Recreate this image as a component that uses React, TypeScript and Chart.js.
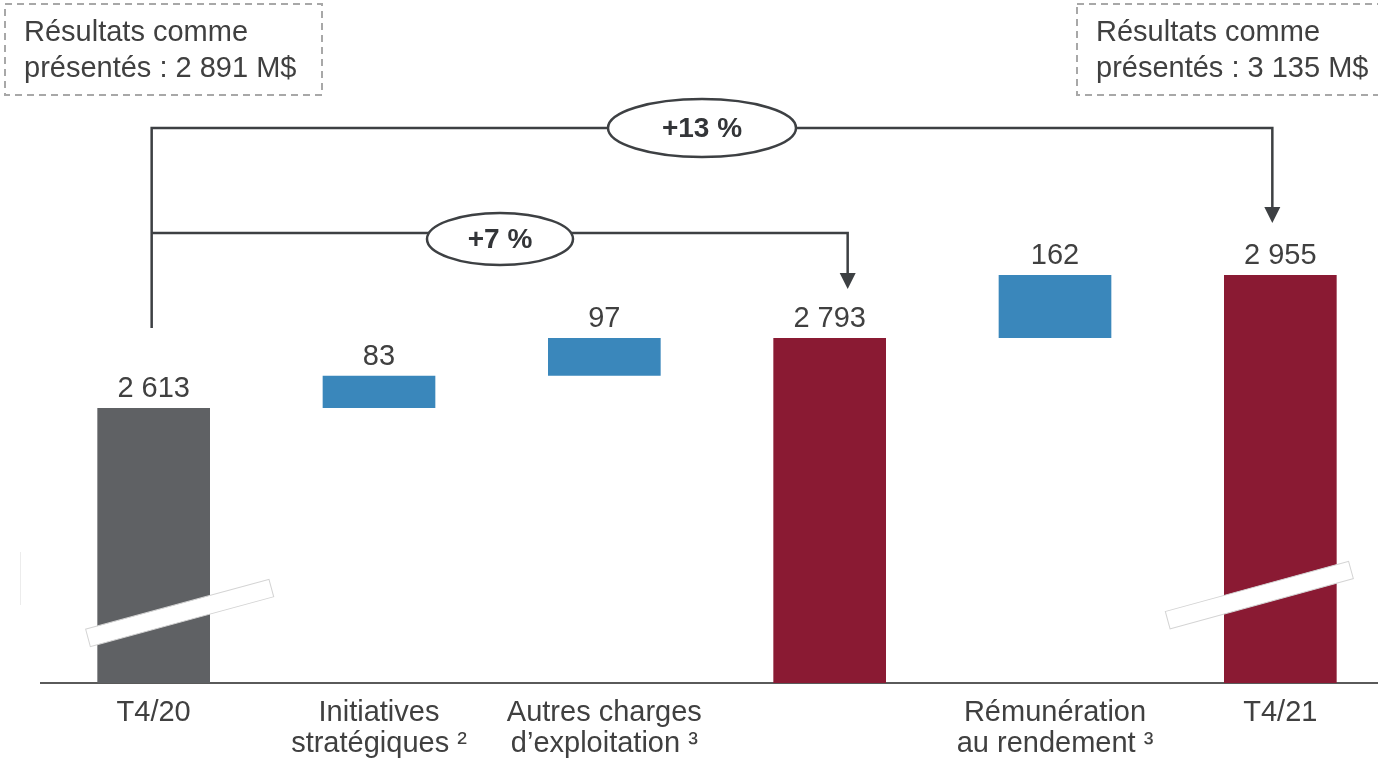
import React, { useEffect, useRef } from "react";
import { Chart, registerables } from "chart.js";

Chart.register(...registerables);

const categories: (string | string[])[] = [
  "T4/20",
  ["Initiatives", "stratégiques ²"],
  ["Autres charges", "d’exploitation ³"],
  "",
  ["Rémunération", "au rendement ³"],
  "T4/21",
];
const values = [2613, 83, 97, 2793, 162, 2955];
const kinds = ["total", "delta", "delta", "total", "delta", "total"];
const barColors = ["#5f6164", "#3a87bb", "#3a87bb", "#8a1a33", "#3a87bb", "#8a1a33"];
const reportedLeft = ["Résultats comme", "présentés : 2 891 M$"];
const reportedRight = ["Résultats comme", "présentés : 3 135 M$"];
const growthLong = "+13 %";
const growthShort = "+7 %";

const Y_MIN = 1906;
const Y_MAX = 3662;
const FONT = "'Liberation Sans', Arial, sans-serif";
const TEXT = "#404040";
const LINE = "#3d4043";

const fmt = (v: number) => String(v).replace(/\B(?=(\d{3})+(?!\d))/g, " ");

let run = 0;
const ranges = values.map((v, i) => {
  if (kinds[i] === "total") {
    run = v;
    return [Y_MIN, v];
  }
  const s = run;
  run += v;
  return [s, run];
});

const decor = {
  id: "decor",
  afterDraw(chart: any) {
    const ctx = chart.ctx as CanvasRenderingContext2D;
    const meta = chart.getDatasetMeta(0);
    const ys = chart.scales.y;
    const bx = (i: number) => meta.data[i].x;

    // break marks
    const brk = (cx: number, cy: number, len: number, ang: number) => {
      ctx.save();
      ctx.translate(cx, cy);
      ctx.rotate(ang);
      ctx.fillStyle = "#ffffff";
      ctx.strokeStyle = "#d4d4d4";
      ctx.lineWidth = 1;
      ctx.fillRect(-len / 2, -9, len, 18);
      ctx.strokeRect(-len / 2, -9, len, 18);
      ctx.restore();
    };
    brk(bx(0) + 26, ys.getPixelForValue(2086), 190, (-15.2 * Math.PI) / 180);
    brk(bx(5) - 21, ys.getPixelForValue(2132), 190, (-15.3 * Math.PI) / 180);

    // faint artifact line
    ctx.save();
    ctx.strokeStyle = "#ececec";
    ctx.lineWidth = 1;
    ctx.beginPath();
    ctx.moveTo(20.5, 552);
    ctx.lineTo(20.5, 605);
    ctx.stroke();
    ctx.restore();

    // value labels
    ctx.save();
    ctx.font = `29px ${FONT}`;
    ctx.fillStyle = TEXT;
    ctx.textAlign = "center";
    ctx.textBaseline = "alphabetic";
    values.forEach((v, i) => {
      ctx.fillText(fmt(v), bx(i), meta.data[i].y - 11);
    });
    ctx.restore();

    // dashed boxes
    ctx.save();
    ctx.strokeStyle = "#a8a8a8";
    ctx.lineWidth = 2;
    ctx.setLineDash([7, 5]);
    ctx.strokeRect(5, 4, 317, 91);
    ctx.strokeRect(1077, 4, 310, 91);
    ctx.setLineDash([]);
    ctx.font = `29px ${FONT}`;
    ctx.fillStyle = TEXT;
    ctx.textAlign = "left";
    ctx.textBaseline = "middle";
    reportedLeft.forEach((t, k) => ctx.fillText(t, 24, 33 + k * 36));
    reportedRight.forEach((t, k) => ctx.fillText(t, 1096, 33 + k * 36));
    ctx.restore();

    // brackets
    const xL = bx(0) - 2;
    const xA1 = bx(3) + 18;
    const xA2 = bx(5) - 8;
    const yTop = 128;
    const yMid = 233;
    ctx.save();
    ctx.strokeStyle = LINE;
    ctx.fillStyle = LINE;
    ctx.lineWidth = 2.5;
    ctx.beginPath();
    ctx.moveTo(xL, 328);
    ctx.lineTo(xL, yTop);
    ctx.lineTo(xA2, yTop);
    ctx.lineTo(xA2, 208);
    ctx.moveTo(xL, yMid);
    ctx.lineTo(xA1, yMid);
    ctx.lineTo(xA1, 274);
    ctx.stroke();
    const arrow = (x: number, tip: number) => {
      ctx.beginPath();
      ctx.moveTo(x - 8, tip - 16);
      ctx.lineTo(x + 8, tip - 16);
      ctx.lineTo(x, tip);
      ctx.closePath();
      ctx.fill();
    };
    arrow(xA1, 289);
    arrow(xA2, 223);

    const ell = (cx: number, cy: number, rx: number, ry: number, t: string) => {
      ctx.beginPath();
      ctx.ellipse(cx, cy, rx, ry, 0, 0, Math.PI * 2);
      ctx.fillStyle = "#ffffff";
      ctx.fill();
      ctx.strokeStyle = LINE;
      ctx.stroke();
      ctx.fillStyle = "#333538";
      ctx.font = `bold 28px ${FONT}`;
      ctx.textAlign = "center";
      ctx.textBaseline = "middle";
      ctx.fillText(t, cx, cy + 1);
    };
    ell(702, 128, 94, 29, growthLong);
    ell(500, 239, 73, 26, growthShort);
    ctx.restore();
  },
};

export default function App() {
  const ref = useRef<HTMLCanvasElement>(null);
  useEffect(() => {
    if (!ref.current) return;
    Chart.defaults.font.family = FONT;
    const chart = new Chart(ref.current, {
      type: "bar",
      data: {
        labels: categories as any,
        datasets: [
          {
            data: ranges as any,
            backgroundColor: barColors,
            borderWidth: 0,
            categoryPercentage: 1,
            barPercentage: 0.5,
          },
        ],
      },
      options: {
        animation: false,
        responsive: false,
        maintainAspectRatio: false,
        layout: { padding: { left: 41, right: 7, top: 0, bottom: 0 } },
        plugins: { legend: { display: false }, tooltip: { enabled: false } },
        scales: {
          x: {
            grid: { display: false, drawTicks: false },
            border: { display: true, color: "#5a5a5a", width: 2 },
            ticks: {
              color: TEXT,
              padding: 14,
              maxRotation: 0,
              autoSkip: false,
              font: { size: 29, lineHeight: 1.07 },
            },
            afterFit: (s: any) => {
              s.height = 78;
            },
          },
          y: {
            display: false,
            min: Y_MIN,
            max: Y_MAX,
          },
        },
      },
      plugins: [decor],
    });
    return () => chart.destroy();
  }, []);
  return (
    <div style={{ position: "fixed", left: 0, top: 0, width: 1378, height: 761, overflow: "hidden", background: "#fff" }}>
      <canvas ref={ref} width={1400} height={761} style={{ display: "block", width: 1400, height: 761 }} />
    </div>
  );
}
